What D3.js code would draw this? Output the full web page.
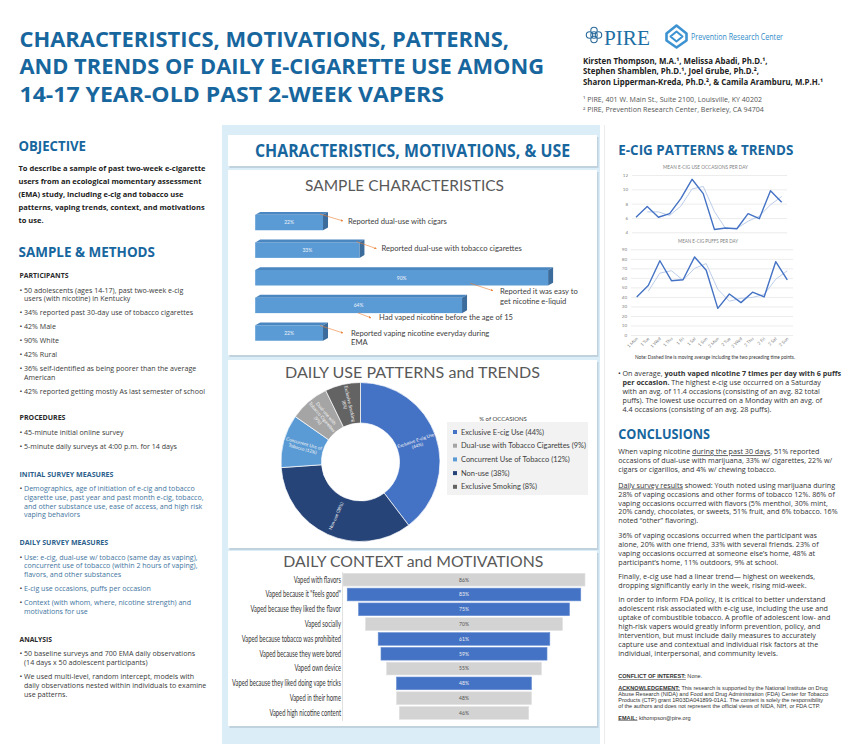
<!DOCTYPE html>
<html><head><meta charset="utf-8">
<script src="https://cdn.jsdelivr.net/npm/d3@7"></script>
<style>html,body{margin:0;padding:0;background:#fff;}svg{display:block;}</style>
</head><body>
<svg id="poster" width="850" height="744"></svg>
<script>
// ---------------- DATA ----------------
const sampleLabels = [
  ["Reported dual-use with cigars"],
  ["Reported dual-use with tobacco cigarettes"],
  ["Reported it was easy to", "get nicotine e-liquid"],
  ["Had vaped nicotine before the age of 15"],
  ["Reported vaping nicotine everyday during", "EMA"]
];
const sampleValues = [22, 33, 90, 64, 22];

const donutLabels = ["Exclusive E-cig Use", "Non-use", "Concurrent Use of Tobacco", "Dual-use with Tobacco Cigarettes", "Exclusive Smoking"];
const donutValues = [44, 38, 12, 9, 8];
const donutSliceText = [["Exclusive E-cig Use", "(44%)"], ["Non-use (38%)"], ["Concurrent Use of", "Tobacco (12%)"], ["Dual-use with", "Tobacco Cigarettes", "(9%)"], ["Exclusive Smoking", "(8%)"]];
const legendOrder = ["Exclusive E-cig Use", "Dual-use with Tobacco Cigarettes", "Concurrent Use of Tobacco", "Non-use", "Exclusive Smoking"];

const funnelLabels = ["Vaped with flavors", "Vaped because it \"feels good\"", "Vaped because they liked the flavor", "Vaped socially", "Vaped because tobacco was prohibited", "Vaped because they were bored", "Vaped own device", "Vaped because they liked doing vape tricks", "Vaped in their home", "Vaped high nicotine content"];
const funnelValues = [86, 83, 75, 70, 61, 59, 55, 48, 48, 46];
const funnelMotivation = [false, true, true, false, true, true, false, true, false, false];

const dayLabels = ["1 Mon", "1 Tue", "1 Wed", "1 Thu", "1 Fri", "1 Sat", "1 Sun", "2 Mon", "2 Tue", "2 Wed", "2 Thu", "2 Fri", "2 Sat", "2 Sun"];
const occasions = [6.1, 7.6, 6.1, 6.6, 8.7, 11.4, 9.4, 4.4, 4.6, 4.5, 6.6, 5.9, 9.8, 8.2];
const occasionsAvg = [null, 6.85, 6.85, 6.35, 7.65, 10.05, 10.4, 6.9, 4.5, 4.55, 5.55, 6.25, 7.85, 9.0];
const puffs = [40, 52, 78, 57, 58, 82, 68, 28, 43, 34, 45, 40, 77, 58];
const puffsAvg = [null, 46, 65, 67.5, 57.5, 70, 75, 48, 35.5, 38.5, 39.5, 42.5, 58.5, 67.5];
const occasionTicks = [4, 6, 8, 10, 12];
const puffTicks = [0, 10, 20, 30, 40, 50, 60, 70, 80, 90];

// ---------------- HELPERS ----------------
const FF = "'Open Sans','Noto Sans',sans-serif";
const CF = "'Lato','Open Sans',sans-serif";
const SF = "'Liberation Sans',Arial,sans-serif";
const BLUE = "#17669e";
const svg = d3.select('#poster');

function measure(str, fs, fw, ff) {
  const t = svg.append('text').attr('font-family', ff || FF).attr('font-size', fs).attr('font-weight', fw || 400).text(str);
  const w = t.node().getComputedTextLength(); t.remove(); return w;
}
function txt(g, x, y, content, o) {
  const t = g.append('text').attr('x', x).attr('y', y)
    .attr('font-family', o.ff || FF).attr('font-size', o.fs).attr('font-weight', o.fw || 400)
    .attr('fill', o.fill || '#333').attr('text-anchor', o.anchor || 'start');
  const segs = typeof content === 'string' ? [{t: content}] : content;
  segs.forEach(s => {
    const ts = t.append('tspan').text(s.t);
    if (s.b) ts.attr('font-weight', 700);
    if (s.u) ts.attr('text-decoration', 'underline');
  });
  if (o.w != null) t.attr('textLength', o.w).attr('lengthAdjust', 'spacingAndGlyphs');
  else if (o.k && o.k !== 1) { const w = t.node().getComputedTextLength(); t.attr('textLength', w * o.k).attr('lengthAdjust', 'spacingAndGlyphs'); }
  return t;
}
function bullets(g, x, items, o) {
  items.forEach(it => {
    g.append('text').attr('x', x).attr('y', it.y).attr('font-family', FF).attr('font-size', o.fs).attr('fill', o.bfill || o.fill).text('•');
    it.lines.forEach((s, i) => txt(g, x + 4.5, it.y + i * o.lh, s, o));
  });
}

// ---------------- HEADER ----------------
const H = svg.append('g');
const titleLines = ["CHARACTERISTICS, MOTIVATIONS, PATTERNS,", "AND TRENDS OF DAILY E-CIGARETTE USE AMONG", "14-17 YEAR-OLD PAST 2-WEEK VAPERS"];
const titleW = [489.5, 524.5, 424.5];
titleLines.forEach((s, i) => txt(H, 19.5, 46.7 + i * 27.5, s, {fs: 22, fw: 700, fill: BLUE, w: titleW[i]}));

// PIRE logo (knot)
const knot = H.append('g').attr('transform', 'translate(594,35)').attr('fill', 'none').attr('stroke', '#2a6a9a').attr('stroke-width', 1.1);
[[0, -4.5], [4.5, 0], [0, 4.5], [-4.5, 0], [0, 0]].forEach(p => knot.append('circle').attr('cx', p[0]).attr('cy', p[1]).attr('r', 3.2));
txt(H, 604, 44.7, "PIRE", {fs: 21, fill: '#1d6fa5', ff: "'Liberation Serif','DejaVu Serif',serif", w: 46});
// PRC logo
const prc = H.append('g').attr('transform', 'translate(676.5,36.5)').attr('fill', 'none').attr('stroke', '#3d93d1').attr('stroke-linejoin', 'round');
prc.append('path').attr('d', 'M0,-11 L10,-3 L10,4 L0,11 L-10,4 L-10,-3 Z').attr('stroke-width', 2.6);
prc.append('path').attr('d', 'M0,-5 L6,0 L0,5 L-6,0 Z').attr('stroke-width', 2);
txt(H, 691, 39.5, "Prevention Research Center", {fs: 8.5, fill: '#2f8bc9', w: 92});

const authors = ["Kirsten Thompson, M.A.¹, Melissa Abadi, Ph.D.¹,", "Stephen Shamblen, Ph.D.¹, Joel Grube, Ph.D.²,", "Sharon Lipperman-Kreda, Ph.D.², & Camila Aramburu, M.P.H.¹"];
const kAuth = 240 / measure(authors[2], 8.2, 700);
authors.forEach((s, i) => txt(H, 583, 63.5 + i * 10.8, s, {fs: 8.2, fw: 700, fill: '#222', k: kAuth}));
const affil = ["¹ PIRE, 401 W. Main St., Suite 2100, Louisville, KY 40202", "² PIRE, Prevention Research Center,  Berkeley, CA 94704"];
const kAff = 179 / measure(affil[0], 6.5);
affil.forEach((s, i) => txt(H, 583, 101.5 + i * 10, s, {fs: 6.5, fill: '#555', k: kAff}));

// ---------------- LEFT COLUMN ----------------
const L = svg.append('g');
txt(L, 18.5, 150.7, "OBJECTIVE", {fs: 15, fw: 700, fill: BLUE, w: 67.5});
const objLines = ["To describe a sample of past two-week e-cigarette", "users from an ecological momentary assessment", "(EMA) study, including e-cig and tobacco use", "patterns, vaping trends, context, and motivations", "to use."];
const kObj = 187 / measure(objLines[0], 7.8, 700);
objLines.forEach((s, i) => txt(L, 18.5, 171 + i * 13.1, s, {fs: 7.8, fw: 700, fill: '#222', k: kObj}));
txt(L, 18.5, 256.7, "SAMPLE & METHODS", {fs: 15, fw: 700, fill: BLUE, w: 136.5});

const kL = 181 / measure("42% reported getting mostly As last semester of school", 7.5);
const bodyL = {fs: 7.5, fill: '#3a3a3a', k: kL, lh: 8.8};
const blueL = {fs: 7.5, fill: '#4375a0', bfill: '#3a3a3a', k: kL, lh: 8.8};
const subL = (y, s, w, c) => txt(L, 19.5, y, s, {fs: 7.2, fw: 700, fill: c || '#2a2a2a', w: w});

subL(278.3, "PARTICIPANTS", 49);
bullets(L, 19.5, [
  {y: 292.6, lines: ["50 adolescents (ages 14-17), past two-week e-cig", "users (with nicotine) in Kentucky"]},
  {y: 315.3, lines: ["34% reported past 30-day use of tobacco cigarettes"]},
  {y: 329, lines: ["42% Male"]},
  {y: 343, lines: ["90% White"]},
  {y: 357, lines: ["42% Rural"]},
  {y: 371, lines: ["36% self-identified as being poorer than the average", "American"]},
  {y: 393.6, lines: ["42% reported getting mostly As last semester of school"]}
], bodyL);
subL(420.3, "PROCEDURES", 46);
bullets(L, 19.5, [
  {y: 435.3, lines: ["45-minute initial online survey"]},
  {y: 449.3, lines: ["5-minute daily surveys at 4:00 p.m. for 14 days"]}
], bodyL);
subL(476.6, "INITIAL SURVEY MEASURES", 94, '#2d5f8c');
bullets(L, 19.5, [
  {y: 491, lines: ["Demographics, age of initiation of e-cig and tobacco", "cigarette use, past year and past month e-cig, tobacco,", "and other substance use, ease of access, and high risk", "vaping behaviors"]}
], blueL);
subL(545.3, "DAILY SURVEY MEASURES", 88.7, '#2d5f8c');
bullets(L, 19.5, [
  {y: 559.6, lines: ["Use: e-cig, dual-use w/ tobacco (same day as vaping),", "concurrent use of tobacco (within 2 hours of vaping),", "flavors, and other substances"]},
  {y: 591.3, lines: ["E-cig use occasions, puffs per occasion"]},
  {y: 605.3, lines: ["Context (with whom, where, nicotine strength) and", "motivations for use"]}
], blueL);
subL(641.6, "ANALYSIS", 32.5);
bullets(L, 19.5, [
  {y: 656, lines: ["50 baseline surveys and 700 EMA daily observations", "(14 days x 50 adolescent participants)"]},
  {y: 679, lines: ["We used multi-level, random intercept, models with", "daily observations nested within individuals to examine", "use patterns."]}
], bodyL);

// ---------------- MIDDLE PANEL ----------------
const M = svg.append('g');
M.append('rect').attr('x', 222).attr('y', 125).attr('width', 378).attr('height', 619).attr('fill', '#dbeef8');
function panel(x, y, w, h) {
  M.append('rect').attr('x', x + 1.5).attr('y', y + 2).attr('width', w).attr('height', h).attr('fill', '#a9bcc8').attr('opacity', 0.55);
  M.append('rect').attr('x', x).attr('y', y).attr('width', w).attr('height', h).attr('fill', '#fff');
}
panel(228, 135, 369, 31);
panel(228, 170, 369, 185);
panel(228, 360, 369, 188);
panel(228, 551, 369, 175);
txt(M, 255, 157.3, "CHARACTERISTICS, MOTIVATIONS, & USE", {fs: 17.5, fw: 700, fill: BLUE, w: 315});

// --- Sample characteristics (3D bars)
txt(M, 305, 190.7, "SAMPLE CHARACTERISTICS", {fs: 15, fill: '#595959', ff: CF, w: 199});
const defs = svg.append('defs');
defs.append('marker').attr('id', 'arr').attr('viewBox', '0 0 10 10').attr('refX', 9).attr('refY', 5)
  .attr('markerWidth', 4).attr('markerHeight', 4).attr('orient', 'auto')
  .append('path').attr('d', 'M0,0 L10,5 L0,10 Z').attr('fill', '#ed7d31');
const sx = d3.scaleLinear().domain([0, 100]).range([255.2, 586.2]);
const sy = d3.scalePoint().domain(d3.range(sampleValues.length)).range([222.5, 333]);
const depthX = 5, depthY = 2.8, frontH = 15.5;
const noteOffsets = [
  {lx: 25, ly: 1, s: [-3, -8.5], e: [20, -1.5]},
  {lx: 22, ly: 1, s: [-3, -8.5], e: [17, -1.5]},
  {lx: -48, ly: 16.5, s: [-78, 5.5], e: [-55, 13]},
  {lx: -83, ly: 14.5, s: [-104, 7.5], e: [-91, 12.5]},
  {lx: 28, ly: 3, s: [-3, -7.5], e: [20, 0]}
];
const SG = M.append('g');
sampleValues.forEach((v, i) => {
  const x0 = sx(0), xe = sx(v) - depthX, yc = sy(i), y0 = yc - frontH / 2, y1 = y0 + frontH;
  SG.append('path').attr('d', `M${x0},${y0} L${x0 + depthX},${y0 - depthY} L${xe + depthX},${y0 - depthY} L${xe},${y0} Z`).attr('fill', '#4a86c0');
  SG.append('path').attr('d', `M${xe},${y0} L${xe + depthX},${y0 - depthY} L${xe + depthX},${y1 - depthY} L${xe},${y1} Z`).attr('fill', '#3c6c9b');
  SG.append('rect').attr('x', x0).attr('y', y0).attr('width', xe - x0).attr('height', frontH).attr('fill', '#5b9bd5');
  SG.append('text').attr('x', (x0 + xe) / 2).attr('y', yc + 1.8).attr('text-anchor', 'middle').attr('font-family', CF).attr('font-size', 5).attr('fill', '#eef4fb').text(v + '%');
  const n = noteOffsets[i];
  SG.append('line').attr('x1', xe + n.s[0]).attr('y1', yc + n.s[1]).attr('x2', xe + n.e[0]).attr('y2', yc + n.e[1])
    .attr('stroke', '#ed7d31').attr('stroke-width', 0.6).attr('marker-end', 'url(#arr)');
  sampleLabels[i].forEach((s, j) => txt(SG, xe + n.lx, yc + n.ly + j * 9.3, s, {fs: 7.6, fill: '#404040', ff: CF}));
});

// --- Donut
txt(M, 285, 377.7, "DAILY USE PATTERNS and TRENDS", {fs: 15.5, fill: '#595959', ff: CF, w: 255});
const donutColors = d3.scaleOrdinal().domain(donutLabels).range(["#4472c4", "#264478", "#5b9bd5", "#a5a5a5", "#636363"]);
const cx = 360.5, cy = 462, rIn = 39, rOut = 79.5;
const pie = d3.pie().sort(null).value(d => d)(donutValues);
const arc = d3.arc().innerRadius(rIn).outerRadius(rOut);
const DG = M.append('g').attr('transform', `translate(${cx},${cy})`);
DG.selectAll('path').data(pie).join('path').attr('d', arc)
  .attr('fill', (d, i) => donutColors(donutLabels[i])).attr('stroke', '#fff').attr('stroke-width', 0.7);
pie.forEach((a, i) => {
  const mid = (a.startAngle + a.endAngle) / 2, r = (rIn + rOut) / 2;
  let rot = mid * 180 / Math.PI - 90; if (rot > 90) rot -= 180;
  const px = r * Math.sin(mid), py = -r * Math.cos(mid);
  const lines = donutSliceText[i];
  const t = DG.append('text').attr('transform', `translate(${px},${py}) rotate(${rot})`).attr('text-anchor', 'middle')
    .attr('font-family', CF).attr('font-size', 4.6).attr('fill', '#f4f4f4');
  lines.forEach((s, j) => t.append('tspan').attr('x', 0).attr('y', (j - (lines.length - 1) / 2) * 5.4 + 1.6).text(s));
});
// legend
M.append('rect').attr('x', 447).attr('y', 422).attr('width', 141).attr('height', 73).attr('fill', '#f2f2f2');
txt(M, 503, 420.5, "% of OCCASIONS", {fs: 6, fill: '#404040', ff: CF, anchor: 'middle'});
const kLeg = 125 / measure("Dual-use with Tobacco Cigarettes (9%)", 7.3, 400, CF);
legendOrder.forEach((name, i) => {
  const y = 432 + i * 13.7;
  M.append('rect').attr('x', 453).attr('y', y - 2).attr('width', 4).attr('height', 4).attr('fill', donutColors(name));
  txt(M, 461, y + 2.6, `${name} (${donutValues[donutLabels.indexOf(name)]}%)`, {fs: 7.3, fill: '#404040', ff: CF, k: kLeg});
});

// --- Funnel
txt(M, 283.3, 567.3, "DAILY CONTEXT and MOTIVATIONS", {fs: 15.5, fill: '#595959', ff: CF, w: 260});
const fy = d3.scaleBand().domain(funnelLabels).range([572.3, 720.4]).paddingInner(0.14).paddingOuter(0.07);
const fw = d3.scaleLinear().domain([0, 100]).range([0, 281.4]);
const fcx = 464;
const FG = M.append('g');
FG.append('line').attr('x1', 342.5).attr('x2', 342.5).attr('y1', 572).attr('y2', 721).attr('stroke', '#d9d9d9').attr('stroke-width', 0.8);
const kF = 109 / measure("Vaped because they liked doing vape tricks", 8.5, 400, CF);
funnelLabels.forEach((lab, i) => {
  const v = funnelValues[i], w = fw(v), y = fy(lab), yc = y + fy.bandwidth() / 2;
  FG.append('rect').attr('x', fcx - w / 2).attr('y', y).attr('width', w).attr('height', fy.bandwidth())
    .attr('fill', funnelMotivation[i] ? '#4472c4' : '#d3d3d3').attr('stroke', funnelMotivation[i] ? '#6d92d4' : '#e2e2e2').attr('stroke-width', 0.6);
  FG.append('text').attr('x', fcx).attr('y', yc + 1.8).attr('text-anchor', 'middle').attr('font-family', CF).attr('font-size', 5)
    .attr('fill', funnelMotivation[i] ? '#f0f0f0' : '#505050').text(v + '%');
  txt(FG, 341, yc + 2.8, lab, {fs: 8.5, fill: '#333', ff: CF, anchor: 'end', k: kF});
});

// ---------------- RIGHT COLUMN ----------------
const R = svg.append('g');
R.append('line').attr('x1', 604.5).attr('x2', 604.5).attr('y1', 125).attr('y2', 744).attr('stroke', '#ececec');
txt(R, 618.3, 155, "E-CIG PATTERNS & TRENDS", {fs: 15, fw: 700, fill: BLUE, w: 175});

function lineChart(o) {
  const g = R.append('g');
  const x = d3.scalePoint().domain(dayLabels).range([o.x0, o.x1]);
  const y = d3.scaleLinear().domain(o.domain).range([o.yb, o.yt]);
  txt(g, o.tx, o.ty, o.title, {fs: 5.3, fill: '#7f7f7f', ff: CF, anchor: 'middle', w: o.tw});
  const ax = g.append('g').attr('transform', `translate(${o.g0},0)`)
    .call(d3.axisLeft(y).tickValues(o.ticks).tickSize(-(o.g1 - o.g0)).tickPadding(4));
  ax.select('.domain').remove();
  ax.selectAll('line').attr('stroke', '#d9d9d9').attr('stroke-width', 0.5);
  ax.selectAll('text').attr('font-family', CF).attr('font-size', 4.5).attr('fill', '#7f7f7f');
  const ln = d3.line().defined(d => d[1] != null).x(d => x(d[0])).y(d => y(d[1]));
  g.append('path').attr('d', ln(dayLabels.map((d, i) => [d, o.avg[i]]))).attr('fill', 'none').attr('stroke', '#b4c7e7').attr('stroke-width', 0.9);
  g.append('path').attr('d', ln(dayLabels.map((d, i) => [d, o.vals[i]]))).attr('fill', 'none').attr('stroke', '#4472c4').attr('stroke-width', 1.4).attr('stroke-linejoin', 'round');
  if (o.xlabels) {
    const xa = g.append('g').attr('transform', `translate(0,${o.yb + 3})`).call(d3.axisBottom(x).tickSize(0).tickPadding(0));
    xa.select('.domain').remove();
    xa.selectAll('text').attr('font-family', CF).attr('font-size', 4.5).attr('fill', '#7f7f7f')
      .attr('text-anchor', 'end').attr('dy', '0.3em').attr('transform', 'rotate(-45)');
  }
}
lineChart({title: "MEAN E-CIG USE OCCASIONS PER DAY", tx: 705.5, ty: 169, tw: 85, x0: 636, x1: 781.7, g0: 632, g1: 787,
  domain: [4, 12], yb: 232.3, yt: 175, ticks: occasionTicks, vals: occasions, avg: occasionsAvg, xlabels: false});
lineChart({title: "MEAN E-CIG PUFFS PER DAY", tx: 708, ty: 243, tw: 60, x0: 636.7, x1: 787.3, g0: 631, g1: 793,
  domain: [0, 90], yb: 335, yt: 249.3, ticks: puffTicks, vals: puffs, avg: puffsAvg, xlabels: true});
txt(R, 635, 359, "Note: Dashed line is moving average including the two preceding time points.", {fs: 5, fill: '#333', ff: CF, w: 160});

const kR = 207 / measure("In order to inform FDA policy, it is critical to better understand", 7.5);
const bodyR = {fs: 7.5, fill: '#333', k: kR, lh: 8.9};
bullets(R, 618, [{y: 376, lines: [
  [{t: "On average, "}, {t: "youth vaped nicotine 7 times per day with 6 puffs", b: 1}],
  [{t: "per occasion.", b: 1}, {t: " The highest e-cig use occurred on a Saturday"}],
  "with an avg. of 11.4 occasions (consisting of an avg. 82 total",
  "puffs). The lowest use occurred on a Monday with an avg. of",
  "4.4 occasions (consisting of an avg. 28 puffs)."]}], bodyR);
txt(R, 618.3, 439, "CONCLUSIONS", {fs: 15, fw: 700, fill: BLUE, w: 91.7});
function para(y, lines) { lines.forEach((s, i) => txt(R, 618.3, y + i * 8.95, s, bodyR)); }
para(454.3, [[{t: "When vaping nicotine "}, {t: "during the past 30 days", u: 1}, {t: ", 51% reported"}],
  "occasions of dual-use with marijuana, 33% w/ cigarettes, 22% w/",
  "cigars or cigarillos, and 4% w/ chewing tobacco."]);
para(487.6, [[{t: "Daily survey results", u: 1}, {t: " showed: Youth noted using marijuana during"}],
  "28% of vaping occasions and other forms of tobacco 12%. 86% of",
  "vaping occasions occurred with flavors (5% menthol, 30% mint,",
  "20% candy, chocolates, or sweets, 51% fruit, and 6% tobacco. 16%",
  "noted “other” flavoring)."]);
para(538.3, ["36% of vaping occasions occurred when the participant was",
  "alone, 20% with one friend, 33% with several friends. 23% of",
  "vaping occasions occurred at someone else’s home, 48% at",
  "participant’s home, 11% outdoors, 9% at school."]);
para(579.3, ["Finally, e-cig use had a linear trend— highest on weekends,",
  "dropping significantly early in the week, rising mid-week."]);
para(601.9, ["In order to inform FDA policy, it is critical to better understand",
  "adolescent risk associated with e-cig use, including the use and",
  "uptake of combustible tobacco. A profile of adolescent low- and",
  "high-risk vapers would greatly inform prevention, policy, and",
  "intervention, but must include daily measures to accurately",
  "capture use and contextual and individual risk factors at the",
  "individual, interpersonal, and community levels."]);
const ackLines = [
  [{t: "ACKNOWLEDGEMENT:", b: 1, u: 1}, {t: " This research is supported by the National Institute on Drug"}],
  [{t: "Abuse Research (NIDA) and Food and Drug Administration (FDA) Center for Tobacco"}],
  [{t: "Products (CTP) grant 1R03DA041899-01A1. The content is solely the responsibility"}],
  [{t: "of the authors and does not represent the official views of NIDA, NIH, or FDA CTP."}]
];
const kAck = 210 / measure("Abuse Research (NIDA) and Food and Drug Administration (FDA) Center for Tobacco", 5, 400, SF);
const smallR = {fs: 5, fill: '#333', k: kAck, ff: SF};
txt(R, 618.3, 678, [{t: "CONFLICT OF INTEREST:", b: 1, u: 1}, {t: " None."}], smallR);
ackLines.forEach((s, i) => txt(R, 618.3, 689.5 + i * 6, s, smallR));
txt(R, 618.3, 719.5, [{t: "EMAIL:", b: 1, u: 1}, {t: " kthompson@pire.org"}], smallR);
</script>
</body></html>
